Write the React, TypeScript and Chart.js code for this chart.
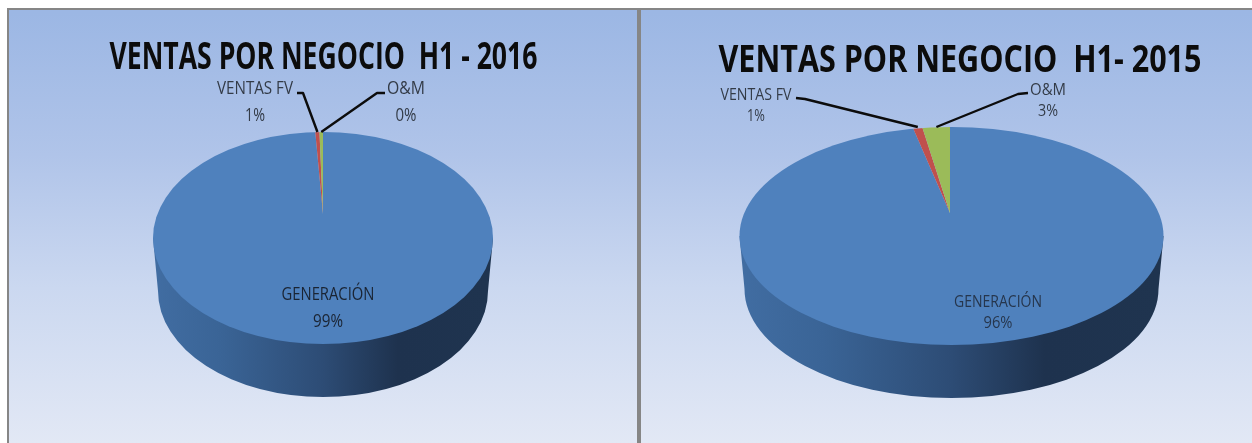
import React, { useEffect, useRef } from "react";
import { Chart, registerables } from "chart.js";

Chart.register(...registerables);

const categories = ["GENERACIÓN", "VENTAS FV", "O&M"];
const values2016 = [99.1, 0.49, 0.41];
const values2015 = [96, 1, 3];
const percentLabels2016 = ["99%", "1%", "0%"];
const percentLabels2015 = ["96%", "1%", "3%"];
const sliceColors = ["#4F81BD", "#C0504D", "#9BBB59"];

const FONT = '"Open Sans", sans-serif';

type Panel = {
  title: string;
  values: number[];
  percents: string[];
  left: number;
  width: number;
  titleX: number; titleY: number; titleW: number; titleSize: number;
  apexX: number; apexY: number; tilt: number;
  cx: number; cy: number; rx: number; ry: number; depth: number;
  labelSize: number; gapY: number;
  labelPos: [number, number][];
  labelW: number[];
  percentW: number[];
  elbows: [number, number, number, number][];
  labelColor: string;
};

const panels: Panel[] = [
  {
    title: "VENTAS POR NEGOCIO  H1 - 2016",
    values: values2016, percents: percentLabels2016,
    left: 9, width: 628,
    titleX: 323.5, titleY: 58, titleW: 428, titleSize: 37,
    apexX: 323, apexY: 214, tilt: 0.6,
    cx: 323, cy: 238, rx: 170, ry: 106, depth: 54,
    labelSize: 18.5, gapY: 27,
    labelPos: [[328, 295], [255, 89], [406, 89]],
    labelW: [93, 76, 38],
    percentW: [30, 20, 21],
    elbows: [[0, 0, 0, 0], [297, 93, 303, 93], [385, 93, 377, 93]],
    labelColor: "#1a2433",
  },
  {
    title: "VENTAS POR NEGOCIO  H1- 2015",
    values: values2015, percents: percentLabels2015,
    left: 641, width: 611,
    titleX: 960, titleY: 61, titleW: 483, titleSize: 37,
    apexX: 950, apexY: 213, tilt: 0.59,
    cx: 951.5, cy: 236, rx: 212, ry: 109, depth: 54,
    labelSize: 15.5, gapY: 21,
    labelPos: [[998, 303], [756, 96], [1048, 91]],
    labelW: [88, 71, 36],
    percentW: [29, 18, 20],
    elbows: [[0, 0, 0, 0], [796, 98, 805, 99], [1028, 93, 1018, 94]],
    labelColor: "#26364d",
  },
];

const ZOOM = 1.25;

function facePlugin(p: Panel) {
  const ox = () => p.left;
  return {
    id: "face",
    beforeDatasetsDraw(chart: any) {
      const ctx = chart.ctx;
      const cx = p.cx - ox();
      const inset = 5;
      const lowY = p.cy + p.depth - 1;
      const g = ctx.createLinearGradient(cx - p.rx, 0, cx + p.rx, 0);
      g.addColorStop(0, "#416DA2");
      g.addColorStop(0.2, "#3A6496");
      g.addColorStop(0.5, "#2D4C75");
      g.addColorStop(0.72, "#1E324E");
      g.addColorStop(1, "#1F344F");
      ctx.save();
      ctx.beginPath();
      ctx.moveTo(cx - p.rx, p.cy);
      ctx.lineTo(cx - p.rx + inset, lowY);
      ctx.ellipse(cx, lowY, p.rx - inset, p.ry, 0, Math.PI, 0, true);
      ctx.lineTo(cx + p.rx, p.cy);
      ctx.closePath();
      ctx.fillStyle = g;
      ctx.fill();
      ctx.restore();
      // top face: the library's arcs, tilted about the apex and cut to the disc outline
      const arc = chart.getDatasetMeta(0).data[0];
      ctx.save();
      ctx.beginPath();
      ctx.ellipse(cx, p.cy, p.rx, p.ry, 0, 0, Math.PI * 2);
      ctx.clip();
      ctx.translate(p.apexX - ox(), p.apexY);
      ctx.scale(ZOOM, ZOOM * p.tilt);
      ctx.translate(-arc.x, -arc.y);
    },
    afterDatasetsDraw(chart: any) {
      chart.ctx.restore();
    },
    afterDraw(chart: any) {
      const ctx = chart.ctx;
      const meta = chart.getDatasetMeta(0);
      ctx.save();
      ctx.textAlign = "center";
      ctx.textBaseline = "middle";
      ctx.fillStyle = "#0c0c0c";
      ctx.font = `700 ${p.titleSize}px ${FONT}`;
      ctx.fillText(p.title, p.titleX - ox(), p.titleY, p.titleW);

      // leader lines, aimed at each small slice's mid-angle
      ctx.strokeStyle = "#0c0c0c";
      ctx.lineWidth = 2.4;
      ctx.lineJoin = "round";
      [1, 2].forEach((i) => {
        const a = meta.data[i];
        const mid = (a.startAngle + a.endAngle) / 2 + Math.PI / 2;
        const rise = p.apexY - (p.cy - p.ry) - 1;
        const tipX = p.apexX + (Math.tan(mid) / p.tilt) * rise;
        const e = p.elbows[i];
        ctx.beginPath();
        ctx.moveTo(e[0] - ox(), e[1]);
        ctx.lineTo(e[2] - ox(), e[3]);
        ctx.lineTo(tipX - ox(), p.cy - p.ry);
        ctx.stroke();
      });

      // data labels
      ctx.font = `400 ${p.labelSize}px ${FONT}`;
      categories.forEach((name, i) => {
        const [x, y] = p.labelPos[i];
        ctx.fillStyle = i === 0 ? p.labelColor : "#333b47";
        ctx.fillText(name, x - ox(), y, p.labelW[i]);
        ctx.fillText(p.percents[i], x - ox(), y + p.gapY, p.percentW[i]);
      });
      ctx.restore();
    },
  };
}

function PiePanel({ panel }: { panel: Panel }) {
  const ref = useRef<HTMLCanvasElement>(null);
  useEffect(() => {
    const chart = new Chart(ref.current!, {
      type: "pie",
      data: {
        labels: categories,
        datasets: [
          {
            data: panel.values,
            backgroundColor: sliceColors,
            borderWidth: 0,
            clip: false,
          } as any,
        ],
      },
      options: {
        animation: false,
        responsive: false,
        layout: { padding: 0 },
        plugins: { legend: { display: false }, tooltip: { enabled: false } },
      },
      plugins: [facePlugin(panel)],
    });
    return () => chart.destroy();
  }, [panel]);
  return (
    <canvas
      ref={ref}
      width={panel.width}
      height={443}
      style={{
        position: "absolute",
        left: panel.left,
        top: 0,
        width: panel.width,
        height: 443,
        background: "linear-gradient(180deg, #9CB7E4 0%, #9CB7E4 3%, #B0C4E9 35%, #CBD8F0 65%, #E2E8F5 100%)",
      }}
    />
  );
}

export default function App() {
  return (
    <div style={{ position: "fixed", left: 0, top: 0, width: 1252, height: 443, background: "#fff", overflow: "hidden" }}>
      {panels.map((p) => (
        <PiePanel key={p.title} panel={p} />
      ))}
      <div style={{ position: "absolute", left: 0, top: 0, width: 1252, height: 8, background: "#fff" }} />
      <div style={{ position: "absolute", left: 7, top: 8, width: 1245, height: 2, background: "#868686" }} />
      <div style={{ position: "absolute", left: 7, top: 8, width: 2, height: 435, background: "#868686" }} />
      <div style={{ position: "absolute", left: 637, top: 8, width: 4, height: 435, background: "#868686" }} />
    </div>
  );
}
